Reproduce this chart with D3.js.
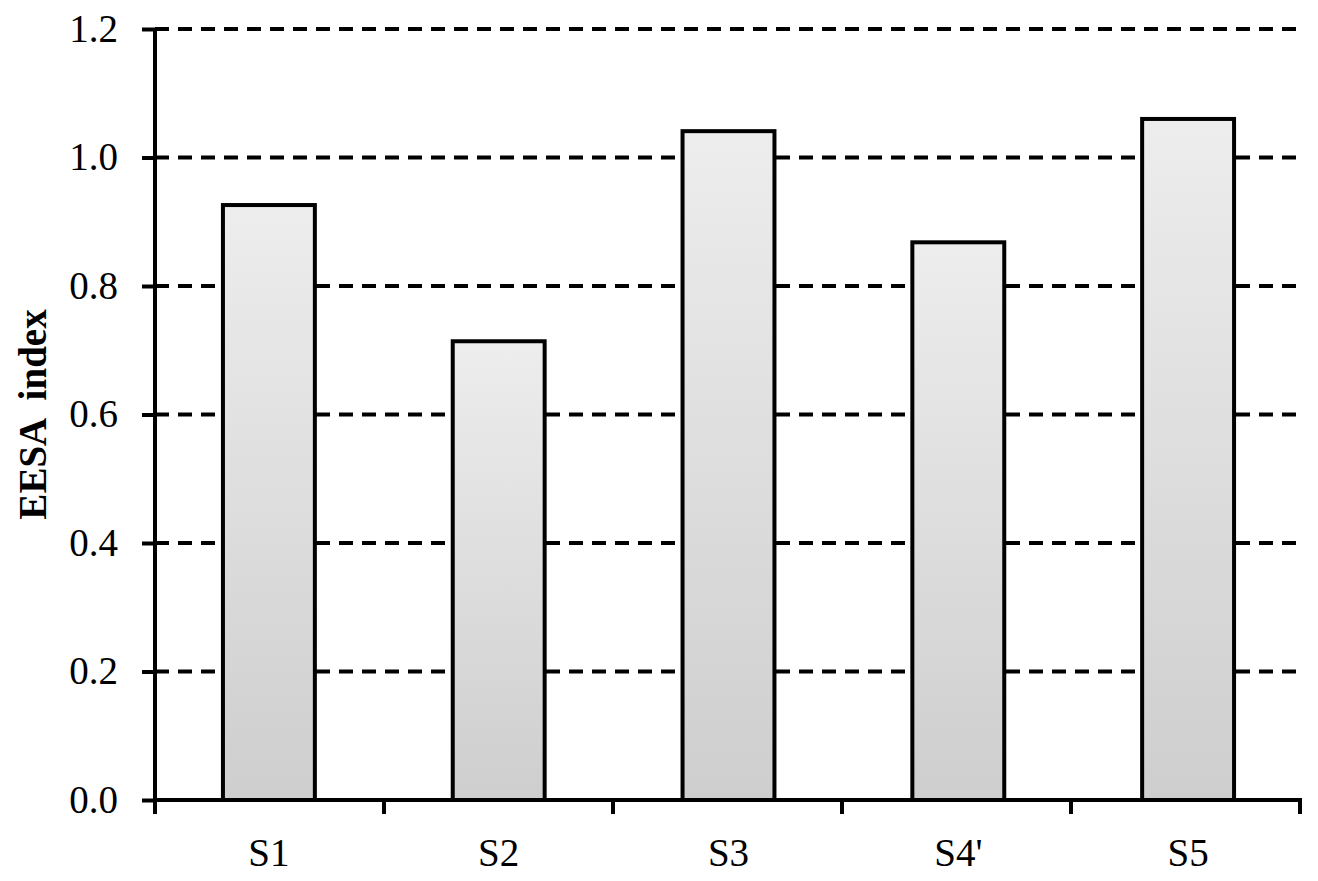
<!DOCTYPE html>
<html>
<head>
<meta charset="utf-8">
<script src="https://cdn.jsdelivr.net/npm/d3@7"></script>
<style>
  body { margin: 0; background: #fff; }
  text { font-family: "Liberation Serif", "Times New Roman", serif; }
</style>
</head>
<body>
<svg id="chart" width="1318" height="881"></svg>
<script>
var categories = ["S1", "S2", "S3", "S4'", "S5"]
var values = [0.926, 0.714, 1.041, 0.868, 1.060]
var yTicks = [0, 0.2, 0.4, 0.6, 0.8, 1.0, 1.2]

var margin = { top: 29, right: 18, bottom: 81, left: 155 },
    width = 1318 - margin.left - margin.right,
    height = 881 - margin.top - margin.bottom

var svg = d3.select('#chart')

var defs = svg.append('defs')
var grad = defs.append('linearGradient')
    .attr('id', 'barfill')
    .attr('x1', 0).attr('y1', 0)
    .attr('x2', 0).attr('y2', 1)
grad.append('stop').attr('offset', '0%').attr('stop-color', '#ededed')
grad.append('stop').attr('offset', '100%').attr('stop-color', '#cecece')

var g = svg.append('g')
    .attr('transform', 'translate(' + margin.left + ',' + margin.top + ')')

var x = d3.scaleBand()
    .domain(categories)
    .range([-1, width + 3])
    .paddingInner(0.6)
    .paddingOuter(0.3)

var y = d3.scaleLinear()
    .domain([0, 1.2])
    .range([height, 0])

// dashed gridlines
g.selectAll('.grid')
    .data(yTicks.filter(function (d) { return d > 0 }))
    .enter()
    .append('line')
    .attr('class', 'grid')
    .attr('x1', 0)
    .attr('x2', width)
    .attr('y1', function (d) { return y(d) })
    .attr('y2', function (d) { return y(d) })
    .attr('stroke', '#000')
    .attr('stroke-width', 4)
    .attr('stroke-dasharray', '14,9')

// bars
g.selectAll('.bar')
    .data(values)
    .enter()
    .append('rect')
    .attr('class', 'bar')
    .attr('x', function (d, i) { return x(categories[i]) })
    .attr('y', function (d) { return y(d) })
    .attr('width', x.bandwidth())
    .attr('height', function (d) { return height - y(d) })
    .attr('fill', 'url(#barfill)')
    .attr('stroke', '#000')
    .attr('stroke-width', 4)

// y axis
var yAxis = d3.axisLeft(y)
    .tickValues(yTicks)
    .tickFormat(d3.format('.1f'))
    .tickSize(13)
    .tickPadding(24)

var ya = g.append('g').call(yAxis)
ya.select('.domain').attr('stroke-width', 4).attr('d', 'M0,' + height + 'V0')
ya.selectAll('.tick line').attr('stroke-width', 4)
ya.selectAll('.tick text')
    .style('font-size', '39px')
    .style('font-family', '"Liberation Serif", serif')
    .attr('fill', '#000')

// x axis
var xTickScale = d3.scaleLinear().domain([0, categories.length]).range([0, width])
var xa = g.append('g')
    .attr('transform', 'translate(0,' + height + ')')
xa.append('line')
    .attr('x1', 0).attr('x2', width + 2)
    .attr('stroke', '#000').attr('stroke-width', 4)
xa.selectAll('.xtick')
    .data(d3.range(categories.length + 1))
    .enter()
    .append('line')
    .attr('class', 'xtick')
    .attr('x1', function (d) { return xTickScale(d) })
    .attr('x2', function (d) { return xTickScale(d) })
    .attr('y1', 0).attr('y2', 14)
    .attr('stroke', '#000').attr('stroke-width', 4)
xa.selectAll('.xlabel')
    .data(categories)
    .enter()
    .append('text')
    .attr('class', 'xlabel')
    .attr('x', function (d) { return x(d) + x.bandwidth() / 2 })
    .attr('y', 66)
    .attr('text-anchor', 'middle')
    .style('font-size', '39px')
    .text(function (d) { return d })

// y title
svg.append('text')
    .attr('transform', 'translate(46,' + (margin.top + y(0.6)) + ') rotate(-90)')
    .attr('text-anchor', 'middle')
    .style('font-size', '39px')
    .style('font-weight', 'bold')
    .style('white-space', 'pre')
    .text('EESA  index')
</script>
</body>
</html>
